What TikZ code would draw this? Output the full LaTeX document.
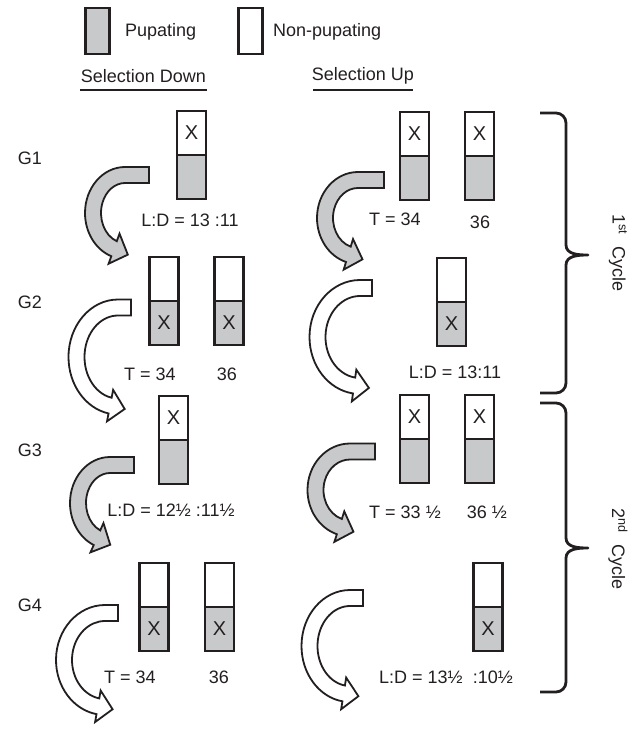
\documentclass[tikz,border=0pt]{standalone}
\usepackage{fontspec}
\setmainfont{Liberation Sans}
\usetikzlibrary{calc}
\definecolor{pupgray}{RGB}{200,201,203}
\definecolor{ink}{RGB}{35,31,32}
\tikzstyle{txt}=[text=ink,inner sep=0pt,font=\fontsize{18}{21}\selectfont]
\tikzstyle{half}=[draw=ink,line width=2.6pt,minimum width=29pt,minimum height=44pt,inner sep=0pt,txt,font=\fontsize{20}{22}\selectfont]
\tikzstyle{legbox}=[draw=ink,line width=2.6pt,minimum width=24pt,minimum height=46pt,inner sep=0pt]
\tikzstyle{bendline}=[draw=ink,line width=1.8pt,line join=miter]
\tikzstyle{bracket}=[draw=ink,line width=2.8pt,line join=round]
% curved block arrow: centre x, centre y, x radius, y radius, end angle, cut x, fill
\newcommand{\bendarrow}[7]{%
  \pgfmathsetmacro\bax{-#3*sin(#5)}
  \pgfmathsetmacro\bay{#4*cos(#5)}
  \pgfmathsetmacro\bal{veclen(\bax,\bay)}
  \pgfmathsetmacro\tipx{15*\bax/\bal}
  \pgfmathsetmacro\tipy{15*\bay/\bal}
  \pgfmathsetmacro\rox{#3+8}\pgfmathsetmacro\roy{#4+8}
  \pgfmathsetmacro\rix{#3-8}\pgfmathsetmacro\riy{#4-8}
  \coordinate (m) at ($(#1,-#2)+(#5:#3pt and #4pt)$);
  \path[bendline,fill=#7] (#6,-#2+\roy) -- (#1,-#2+\roy)
    arc[start angle=90,end angle=#5,x radius=\rox pt,y radius=\roy pt]
    -- ($(m)+(#5:16pt)$) -- ($(m)+(\tipx pt,\tipy pt)$) -- ($(m)-(#5:16pt)$)
    -- ($(#1,-#2)+(#5:\rix pt and \riy pt)$)
    arc[start angle=#5,end angle=90,x radius=\rix pt,y radius=\riy pt]
    -- (#6,-#2+\riy) -- cycle;
}
% cycle brace: top y, tip y, bottom y
\newcommand{\cyclebrace}[3]{%
  \draw[bracket] (540,-#1) -- (556,-#1) to[out=0,in=90] (566,-#1-10) -- (566,-#2+10)
    to[out=-90,in=180] (588,-#2) to[out=180,in=90] (566,-#2-10) -- (566,-#3+10)
    to[out=-90,in=0] (556,-#3) -- (540,-#3);
}

\begin{document}
\begin{tikzpicture}[x=1pt,y=1pt]
    \useasboundingbox (0,0) rectangle (633,-729);
    % legend
    \node[legbox,fill=pupgray] (pup) at (97.5,-31) {};
    \node[txt,anchor=west] (puptext) at (125,-32) {Pupating};
    \node[legbox] (nonpup) at (250.5,-31) {};
    \node[txt,anchor=west] (nonputext) at (273,-32) {Non-pupating};
    \node[txt] (seldown) at (143.5,-76) {Selection Down};
    \node[txt] (selup) at (363,-76) {Selection Up};
    \draw[ink,line width=1.4pt] (80,-90) -- (207,-90);
    \draw[ink,line width=1.4pt] (313,-90) -- (413,-90);
    % generations
    \foreach \g/\y in {1/158, 2/302, 3/450, 4/605}
        \node[txt,anchor=east] (G\g) at (42,-\y) {G\g};
    % vials with the X in the non-pupating half
    \foreach \name/\x/\y in {g1l/191.5/111, g1ra/414.5/112, g1rb/479.5/112, g3l/173.5/396, g3ra/414.5/395, g3rb/479.5/395}{
        \node[half] (\name-t) at (\x,-\y-22) {X};
        \node[half,fill=pupgray] (\name-b) at (\x,-\y-66) {};
    }
    % vials with the X in the pupating half
    \foreach \name/\x/\y in {g2la/164/257, g2lb/229/257, g2r/451.5/258, g4la/154/563, g4lb/219.5/563, g4r/488/563}{
        \node[half] (\name-t) at (\x,-\y-22) {};
        \node[half,fill=pupgray] (\name-b) at (\x,-\y-66) {X};
    }
    % conditions
    \node[txt] (ld1) at (190,-220) {L:D = 13 :11};
    \node[txt] (t1a) at (395,-219) {T = 34};
    \node[txt] (t1b) at (480,-222) {36};
    \node[txt] (t2a) at (150,-374) {T = 34};
    \node[txt] (t2b) at (227,-374) {36};
    \node[txt] (ld2) at (455,-372) {L:D = 13:11};
    \node[txt] (ld3) at (171,-510) {L:D = 12\textonehalf\ :11\textonehalf};
    \node[txt] (t3a) at (405,-512) {T = 33 \textonehalf};
    \node[txt] (t3b) at (487,-512) {36 \textonehalf};
    \node[txt] (t4a) at (130,-677) {T = 34};
    \node[txt] (t4b) at (219,-677) {36};
    \node[txt] (ld4) at (446,-677) {L:D = 13\textonehalf\ \ :10\textonehalf};
    % curved arrows between generations
    \bendarrow{125}{213}{32}{38}{250}{149}{pupgray}
    \bendarrow{118}{357}{41.5}{49.5}{259}{131}{white}
    \bendarrow{110}{503}{32}{38}{246}{134}{pupgray}
    \bendarrow{105}{660}{41}{47}{260}{118}{white}
    \bendarrow{358}{218}{33}{38}{253}{384}{pupgray}
    \bendarrow{360}{337}{42.5}{49}{262}{372}{white}
    \bendarrow{350}{490}{34.5}{38.5}{252}{375}{pupgray}
    \bendarrow{350}{646}{40.5}{48}{261}{363}{white}
    % cycles
    \cyclebrace{113}{255}{393}
    \cyclebrace{403}{548}{692}
    \node[txt,rotate=-90] (cyc1) at (618,-253) {1\textsuperscript{st}\hspace{12pt}Cycle};
    \node[txt,rotate=-90] (cyc2) at (618,-549) {2\textsuperscript{nd}\hspace{12pt}Cycle};
\end{tikzpicture}
\end{document}
